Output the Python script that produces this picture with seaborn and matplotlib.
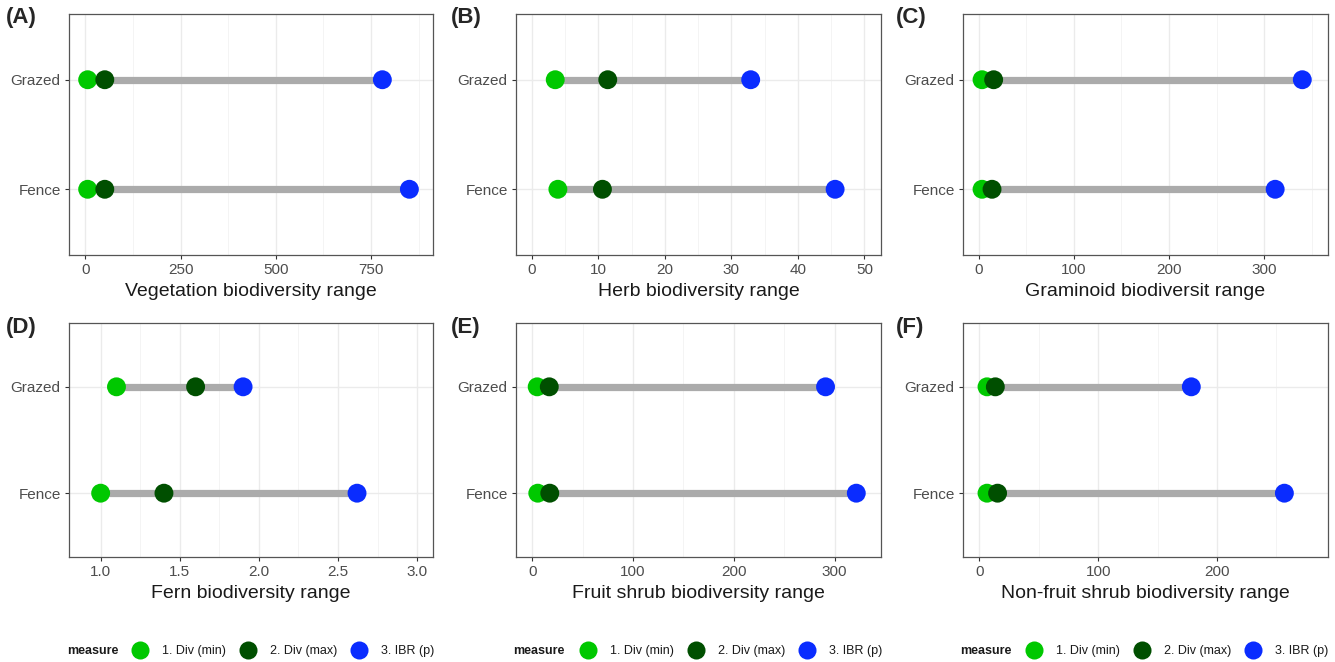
import matplotlib
matplotlib.use("Agg")
import matplotlib.pyplot as plt
from matplotlib.lines import Line2D
from matplotlib.ticker import AutoMinorLocator
import numpy as np
import pandas as pd
import seaborn as sns

# values, order: Fence, Grazed
groups = ["Fence", "Grazed"]
measures = ["1. Div (min)", "2. Div (max)", "3. IBR (p)"]
colors = ["#00C800", "#004F00", "#0A2CFF"]

veg_min = [6, 6]
veg_max = [51, 51]
veg_ibr = [851, 780]

herb_min = [3.9, 3.5]
herb_max = [10.6, 11.4]
herb_ibr = [45.6, 32.9]

gram_min = [3.5, 3.5]
gram_max = [14, 15.7]
gram_ibr = [311.5, 340]

fern_min = [1.0, 1.1]
fern_max = [1.4, 1.6]
fern_ibr = [2.62, 1.90]

fruit_min = [5.6, 5]
fruit_max = [17.5, 17]
fruit_ibr = [321.5, 291]

nonfruit_min = [6.5, 6.5]
nonfruit_max = [15.4, 13.5]
nonfruit_ibr = [256.7, 178.4]

panels = [
    ("(A)", "Vegetation biodiversity range", veg_min, veg_max, veg_ibr, (-43, 913), 250),
    ("(B)", "Herb biodiversity range", herb_min, herb_max, herb_ibr, (-2.4, 52.5), 10),
    ("(C)", "Graminoid biodiversit range", gram_min, gram_max, gram_ibr, (-16.5, 367), 100),
    ("(D)", "Fern biodiversity range", fern_min, fern_max, fern_ibr, (0.80, 3.10), 0.5),
    ("(E)", "Fruit shrub biodiversity range", fruit_min, fruit_max, fruit_ibr, (-16, 346), 100),
    ("(F)", "Non-fruit shrub biodiversity range", nonfruit_min, nonfruit_max, nonfruit_ibr, (-13.7, 293.4), 100),
]

sns.set_theme(style="white")
plt.rcParams["font.family"] = ["Liberation Sans", "DejaVu Sans"]

W, H = 1335, 662
fig = plt.figure(figsize=(W / 100, H / 100), dpi=100)

col_x = [(69, 433), (516, 881), (963, 1328)]
row_y = [(14, 255), (323, 557)]
label_x = [6, 451, 896]
label_y = [7, 317]
legend_x = [(67, 131), (513, 579), (960, 1025)]

for i, (tag, xlabel, vmin, vmax, vibr, xlim, step) in enumerate(panels):
    r, c = divmod(i, 3)
    x0, x1 = col_x[c]
    y0, y1 = row_y[r]
    ax = fig.add_axes([x0 / W, 1 - y1 / H, (x1 - x0) / W, (y1 - y0) / H])

    df = pd.DataFrame({
        "group": groups * 3,
        "measure": np.repeat(measures, 2),
        "value": vmin + vmax + vibr,
    })
    df["ypos"] = df["group"].map({g: k for k, g in enumerate(groups)})

    rng = df.groupby("ypos")["value"].agg(["min", "max"])
    ax.hlines(rng.index, rng["min"], rng["max"], color="#ABABAB", lw=5.2, zorder=2)
    sns.scatterplot(data=df, x="value", y="ypos", hue="measure", hue_order=measures,
                    palette=colors, s=185, linewidth=0, legend=False, ax=ax, zorder=3)

    ax.set_xlim(*xlim)
    ax.set_ylim(-0.6, 1.6)
    ax.set_yticks([0, 1])
    ax.set_yticklabels(groups)
    ax.xaxis.set_major_locator(plt.MultipleLocator(step))
    if step == 0.5:
        ax.xaxis.set_major_formatter(plt.FormatStrFormatter("%.1f"))
    ax.xaxis.set_minor_locator(AutoMinorLocator(2))
    ax.set_ylabel("")
    ax.set_xlabel(xlabel, fontsize=14, color="#1A1A1A", labelpad=4)

    ax.set_axisbelow(True)
    ax.grid(True, which="major", color="#EBEBEB", lw=1.0)
    ax.grid(True, which="minor", axis="x", color="#F3F3F3", lw=0.6)
    ax.tick_params(which="major", bottom=True, left=True, length=3, width=0.8,
                   color="#333333", labelcolor="#4D4D4D", labelsize=11, pad=3)
    ax.tick_params(which="minor", length=0)
    for sp in ax.spines.values():
        sp.set_color("#555555")
        sp.set_linewidth(0.9)

    fig.text(label_x[c] / W, 1 - label_y[r] / H, tag, fontsize=16, fontweight="bold",
             ha="left", va="top")

    if r == 1:
        tx, lx = legend_x[c]
        ly = 1 - 651 / H
        fig.text(tx / W, ly, "measure", fontsize=9, fontweight="bold",
                 color="#1A1A1A", ha="left", va="center")
        handles = [Line2D([], [], marker="o", ls="", markersize=13,
                          markerfacecolor=col, markeredgewidth=0) for col in colors]
        fig.legend(handles, measures, loc="center left", bbox_to_anchor=(lx / W, ly),
                   ncol=3, frameon=False, fontsize=9, handlelength=1.5,
                   handletextpad=1.0, columnspacing=1.0, borderpad=0,
                   borderaxespad=0, labelcolor="#1A1A1A")

fig.savefig("out.png", dpi=100)
